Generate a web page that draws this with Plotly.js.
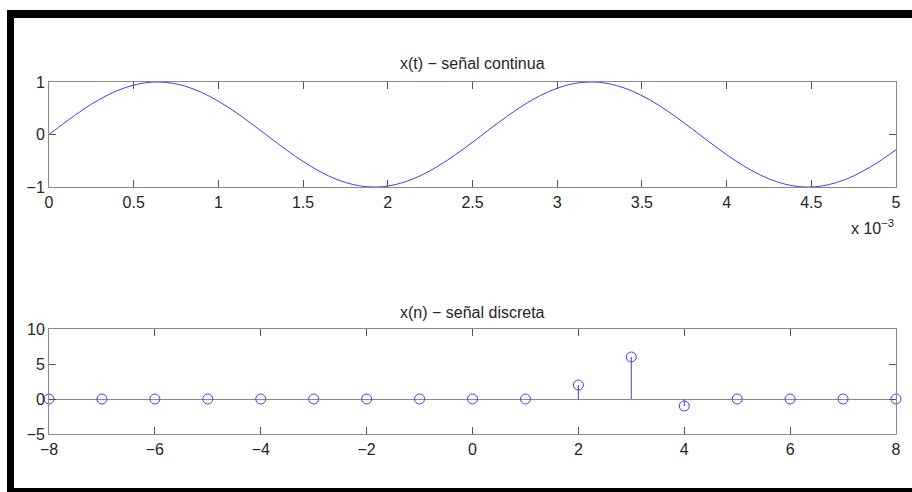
<!DOCTYPE html>
<html>
<head>
<meta charset="utf-8">
<script src="https://cdn.plot.ly/plotly-3.0.1.min.js"></script>
<style>
html,body{margin:0;padding:0;background:#fff;}
#wrap{position:relative;width:912px;height:492px;overflow:hidden;background:#fff;}
#frame{position:absolute;left:7px;top:10px;width:920px;height:470px;border-top:8px solid #000;border-left:7px solid #000;border-bottom:6px solid #000;box-sizing:content-box;}
#chart{position:absolute;left:0;top:0;width:912px;height:492px;}
</style>
</head>
<body>
<div id="wrap"><div id="frame"></div><div id="chart"></div></div>
<script>
// continuous signal samples (time in ms, i.e. x 10^-3 s)
const tMs = [0,0.1,0.2,0.3,0.4,0.5,0.6,0.7,0.8,0.9,1.0,1.1,1.2,1.3,1.4,1.5,1.6,1.7,1.8,1.9,2.0,2.1,2.2,2.3,2.4,2.5,2.6,2.7,2.8,2.9,3.0,3.1,3.2,3.3,3.4,3.5,3.6,3.7,3.8,3.9,4.0,4.1,4.2,4.3,4.4,4.5,4.6,4.7,4.8,4.9,5.0];
const xt = [0,0.243,0.471,0.672,0.831,0.941,0.995,0.989,0.924,0.803,0.634,0.428,0.195,-0.049,-0.290,-0.514,-0.707,-0.858,-0.957,-0.999,-0.981,-0.904,-0.773,-0.596,-0.383,-0.147,0.098,0.337,0.556,0.741,0.882,0.970,1.000,0.970,0.882,0.741,0.556,0.337,0.098,-0.147,-0.383,-0.596,-0.773,-0.904,-0.981,-0.999,-0.957,-0.858,-0.707,-0.514,-0.290];
// discrete signal
const nIdx = [-8,-7,-6,-5,-4,-3,-2,-1,0,1,2,3,4,5,6,7,8];
const xn = [0,0,0,0,0,0,0,0,0,0,2,6,-1,0,0,0,0];
const titleTop = 'x(t) − señal continua';
const titleBottom = 'x(n) − señal discreta';

const stemX = [], stemY = [];
nIdx.forEach((n,i)=>{ if(xn[i]!==0){ stemX.push(n,n,null); stemY.push(0,xn[i],null);} });

const blue = '#3d3dff';
const axisCol = '#8a8a8a';
const font = {family:'"Liberation Sans", Arial, sans-serif', size:16, color:'#262626'};

const H = 492;
const py = p => 1 - p/H;

const common = {
  showline:true, linecolor:axisCol, linewidth:1, mirror:'ticks',
  ticks:'inside', ticklen:7, tickcolor:'#555', tickwidth:1,
  showgrid:false, zeroline:false, tickfont:font, fixedrange:true
};

const traces = [
  {x:tMs, y:xt, type:'scatter', mode:'lines', line:{color:blue, width:1, shape:'spline'}, xaxis:'x', yaxis:'y', hoverinfo:'skip'},
  {x:stemX, y:stemY, type:'scatter', mode:'lines', line:{color:blue, width:1}, xaxis:'x2', yaxis:'y2', hoverinfo:'skip', cliponaxis:false},
  {x:nIdx, y:xn, type:'scatter', mode:'markers', marker:{symbol:'circle-open', size:10, color:blue, line:{width:1, color:blue}}, xaxis:'x2', yaxis:'y2', cliponaxis:false}
];

const layout = {
  width:912, height:492,
  margin:{l:49, r:16, t:0, b:0},
  paper_bgcolor:'rgba(0,0,0,0)', plot_bgcolor:'rgba(0,0,0,0)',
  showlegend:false,
  font:font,
  xaxis: Object.assign({}, common, {range:[0,5], tickvals:[0,0.5,1,1.5,2,2.5,3,3.5,4,4.5,5], ticktext:['0','0.5','1','1.5','2','2.5','3','3.5','4','4.5','5'], anchor:'y', domain:[0,1], ticklabelstandoff:1}),
  yaxis: Object.assign({}, common, {range:[-1,1], tickvals:[-1,0,1], domain:[py(187), py(82)], anchor:'x'}),
  xaxis2: Object.assign({}, common, {range:[-8,8], tickvals:[-8,-6,-4,-2,0,2,4,6,8], anchor:'y2', domain:[0,1], ticklabelstandoff:1}),
  yaxis2: Object.assign({}, common, {range:[-5,10], tickvals:[-5,0,5,10], domain:[py(434), py(329)], anchor:'x2', zeroline:true, zerolinecolor:axisCol, zerolinewidth:1}),
  annotations:[
    {text:titleTop, xref:'paper', yref:'paper', x:0.5, y:py(63), xanchor:'center', yanchor:'middle', showarrow:false, font:{family:font.family, size:16, color:'#262626'}},
    {text:titleBottom, xref:'paper', yref:'paper', x:0.5, y:py(312), xanchor:'center', yanchor:'middle', showarrow:false, font:{family:font.family, size:16, color:'#262626'}},
    {text:'x 10<sup>−3</sup>', xref:'paper', yref:'paper', x:1.0, y:py(227), xanchor:'right', yanchor:'middle', showarrow:false, font:{family:font.family, size:16, color:'#262626'}}
  ]
};

Plotly.newPlot('chart', traces, layout, {staticPlot:true, displayModeBar:false});
</script>
</body>
</html>
